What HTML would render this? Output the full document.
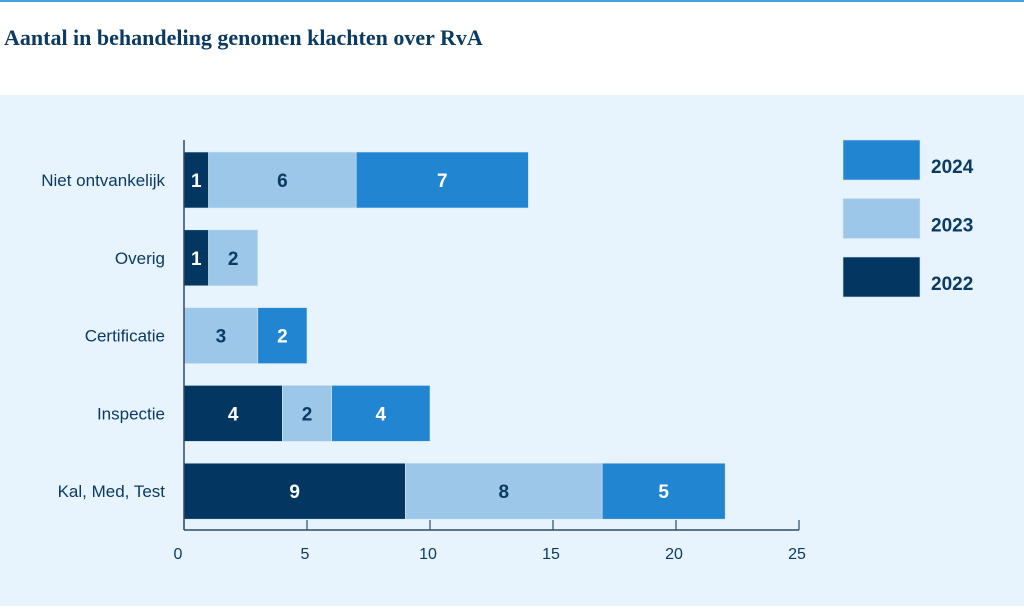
<!DOCTYPE html>
<html><head><meta charset="utf-8"><style>
body{margin:0;width:1024px;height:606px;overflow:hidden;background:#fff;font-family:"Liberation Sans",sans-serif;}
</style></head><body>
<svg width="1024" height="606" xmlns="http://www.w3.org/2000/svg">
<rect x="0" y="0" width="1024" height="2" fill="#4a9fe0"/>
<text x="4" y="45" font-family="Liberation Serif,serif" font-weight="bold" font-size="22" fill="#0b3a63">Aantal in behandeling genomen klachten over RvA</text>
<rect x="0" y="95" width="1024" height="511" fill="#e8f4fd"/>
<g id="bars"></g>
<g id="axis"></g>
<g id="legend"></g>
</svg>
<script>
const categories=["Niet ontvankelijk","Overig","Certificatie","Inspectie","Kal, Med, Test"];
const v2022=[1,1,0,4,9];
const v2023=[6,2,3,2,8];
const v2024=[7,0,2,4,5];
const ticks=[0,5,10,15,20,25];
const years=["2024","2023","2022"];
const NS="http://www.w3.org/2000/svg";
const x0=184,pxPerUnit=24.6,rowTop=152,rowStep=77.8,barH=56;
const xs=v=>x0+v*pxPerUnit;
const colors={"2022":"#033762","2023":"#9cc7e8","2024":"#2185d2"};
const textCol={"2022":"#fff","2023":"#0b3a63","2024":"#fff"};
function mk(tag,attrs,parent){const e=document.createElementNS(NS,tag);for(const k in attrs)e.setAttribute(k,attrs[k]);parent.appendChild(e);return e;}
const bars=document.getElementById('bars');
categories.forEach((c,i)=>{
  const y=rowTop+i*rowStep;
  const lab=mk('text',{x:165,y:y+barH/2+6,'text-anchor':'end','font-size':17,fill:'#0b3a63'},bars);
  lab.textContent=c;
  
  
  let acc=0;
  [["2022",v2022],["2023",v2023],["2024",v2024]].forEach(([yr,arr])=>{
    const v=arr[i];if(!v)return;
    const r=mk('rect',{x:xs(acc),y:y,width:xs(acc+v)-xs(acc),height:barH,fill:colors[yr],stroke:'#d6e9f7','stroke-width':0.6},bars);
    
    
    const t=mk('text',{x:(xs(acc)+xs(acc+v))/2,y:y+barH/2+7,'text-anchor':'middle','font-size':19,'font-weight':'bold',fill:textCol[yr]},bars);
    t.textContent=v;
    
    
    acc+=v;
  });
});
const ax=document.getElementById('axis');
mk('line',{x1:x0,y1:140,x2:x0,y2:530,stroke:'#2e4a66','stroke-width':1.5},ax);
mk('line',{x1:x0,y1:530,x2:xs(25),y2:530,stroke:'#2e4a66','stroke-width':1.5},ax);
ticks.forEach(t=>{
  mk('line',{x1:xs(t),y1:520,x2:xs(t),y2:530,stroke:'#2e4a66','stroke-width':1.2},ax);
  const tl=mk('text',{x:xs(t)-(t===0?6:2),y:559,'text-anchor':'middle','font-size':16,fill:'#0b3a63'},ax);
  tl.textContent=t;
  
  
});
const lg=document.getElementById('legend');
years.forEach((yr,i)=>{
  const y=140+i*58.5;
  const r=mk('rect',{x:843,y:y,width:77,height:40,fill:colors[yr],stroke:'#cfe4f5','stroke-width':0.6},lg);
  
  
  const t=mk('text',{x:931,y:y+33,'font-size':19,'font-weight':'bold',fill:'#0b3a63'},lg);
  t.textContent=yr;
  
  
});
</script>
</body></html>
